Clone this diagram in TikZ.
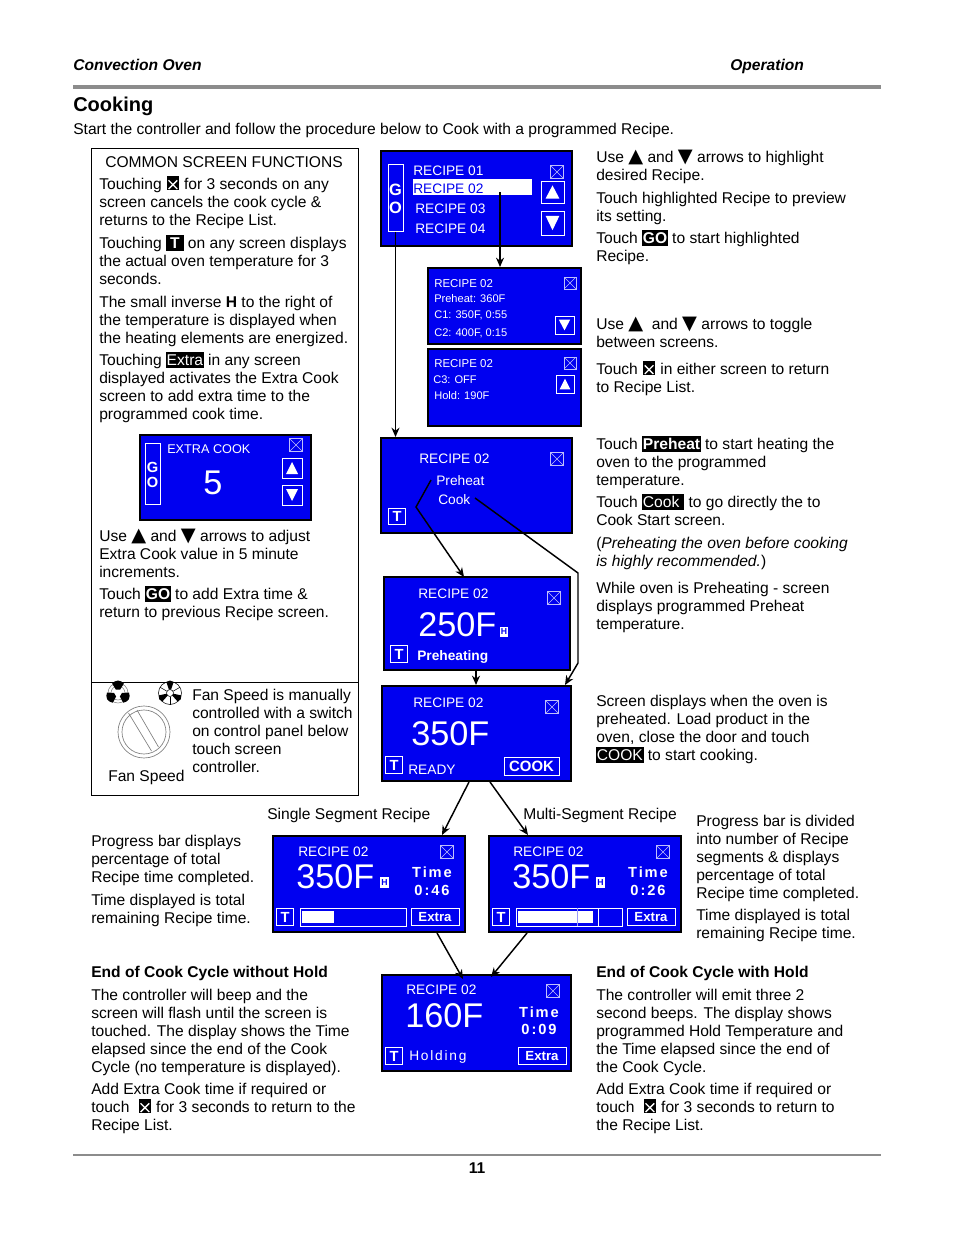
\documentclass[tikz,border=0pt]{standalone}
\usepackage{fontspec}
\setmainfont{Liberation Sans}
\newfontfamily\symfont{DejaVu Sans}
\usepackage{xcolor}
\usetikzlibrary{positioning,arrows.meta,calc,fit}
\definecolor{scrblue}{HTML}{0000F0}
\definecolor{rulegray}{HTML}{8C8C8C}
\setlength{\fboxsep}{0.5pt}
\newcommand{\bodyfont}{\fontsize{11.7}{13.5}\selectfont}
\newcommand{\invstrut}{\rule[-2pt]{0pt}{11pt}}
\newcommand{\invtxt}[1]{\colorbox{black}{\invstrut\textcolor{white}{\textbf{#1}}}}
\newcommand{\invreg}[1]{\colorbox{black}{\invstrut\textcolor{white}{#1}}}
\newcommand{\xmark}{\hspace{0.4pt}\tikz[baseline=0pt,x=1pt,y=1pt]{\fill[black] (0,-1) rectangle (9.5,10); \draw[white, line width=1pt] (1.5,0) -- (8,6.5) (1.5,6.5) -- (8,0);}\hspace{0.4pt}}
\newcommand{\uptri}{{\symfont\fontsize{14.5}{13.5}\selectfont\char"25B2}}
\newcommand{\dntri}{{\symfont\fontsize{14.5}{13.5}\selectfont\char"25BC}}
\newcommand{\ppbb}{path picture bounding box}
\begin{document}
\begin{tikzpicture}[
   x=0.75pt, y=-0.75pt,
   >={Stealth[length=7pt,width=6pt]},
   txt/.style={anchor=base west, inner sep=0pt, align=left, font=\bodyfont, text=black},
   screen/.style={draw=black, line width=1.5pt, fill=scrblue, inner sep=0pt},
   scrtxt/.style={anchor=base west, inner sep=0pt, text=white, font=\fontsize{10.3}{12}\selectfont},
   scrsmall/.style={scrtxt, font=\fontsize{8.3}{10}\selectfont},
   scrbold/.style={scrtxt, font=\fontsize{10.3}{12}\selectfont\bfseries},
   scrbig/.style={scrtxt, font=\fontsize{25.7}{28}\selectfont},
   scrtime/.style={anchor=base, inner sep=0pt, text=white, font=\fontsize{11}{13}\selectfont\bfseries\addfontfeature{LetterSpace=13}},
   btn/.style={draw=white, line width=0.75pt, inner sep=0pt, text=white},
   xbtn/.style={draw=white!75!scrblue, line width=0.5pt, inner sep=0pt, minimum size=9.5pt,
                path picture={\draw[white!75!scrblue, line width=0.4pt] (\ppbb.north west) -- (\ppbb.south east)
                   (\ppbb.north east) -- (\ppbb.south west);}},
   upbtn/.style={btn, path picture={\fill[white] ($(\ppbb.south west)!.2!(\ppbb.north east)$) -- ($(\ppbb.south east)!.2!(\ppbb.north west)$)
                   -- ($(\ppbb.north)!.2!(\ppbb.south)$) -- cycle;}},
   dnbtn/.style={btn, path picture={\fill[white] ($(\ppbb.north west)!.2!(\ppbb.south east)$) -- ($(\ppbb.north east)!.2!(\ppbb.south west)$)
                   -- ($(\ppbb.south)!.2!(\ppbb.north)$) -- cycle;}},
   tbtn/.style={btn, minimum size=12.5pt, font=\fontsize{11}{12}\selectfont\bfseries},
   wbtn/.style={btn, font=\fontsize{9.9}{11}\selectfont\bfseries},
   hbox/.style={fill=white, inner sep=0pt, text=scrblue, font=\fontsize{6.5}{7}\selectfont\bfseries, minimum width=6.5pt, minimum height=8pt},
   flow/.style={draw=black, line width=1.1pt}]
  \path[use as bounding box, fill=white] (0,0) rectangle (954,1235);

  \node[txt, font=\bodyfont\bfseries\itshape] (hdrleft) at (73,70) {Convection Oven};
  \node[txt, font=\bodyfont\bfseries\itshape] (hdrright) at (730,70) {Operation};
  \draw[rulegray, line width=2.4pt] (73,87) -- (881,87);
  \node[txt, font=\fontsize{15}{18}\selectfont\bfseries] (title) at (73,111) {Cooking};
  \node[txt] (intro) at (73,134) {Start the controller and follow the procedure below to Cook with a programmed Recipe.};

  \draw[black, line width=0.75pt] (91,148) rectangle (358,795);
  \draw[black, line width=0.75pt] (91,682) -- (358,682);
  \node[txt, anchor=base] (common) at (224,167) {COMMON SCREEN FUNCTIONS};
  \node[txt] (fnx) at (99,225) {Touching \xmark{} for 3 seconds on any\\screen cancels the cook cycle \&\\returns to the Recipe List.};
  \node[txt] (fnt) at (99,284) {Touching \invtxt{\hspace{2.5pt}T\hspace{2.5pt}} on any screen displays\\the actual oven temperature for 3\\seconds.};
  \node[txt] (fnh) at (99,343) {The small inverse \textbf{H} to the right of\\the temperature is displayed when\\the heating elements are energized.};
  \node[txt] (fnextra) at (99,419) {Touching \invreg{Extra} in any screen\\displayed activates the Extra Cook\\screen to add extra time to the\\programmed cook time.};

  \node[screen, fit={(140,435) (311,520)}] (extrascr) {};
  \node[btn, fit={(145,443) (160,504)}] (extrago) {};
  \node[anchor=base, inner sep=0pt, text=white, font=\fontsize{11}{12}\selectfont\bfseries] (extrag) at (152.5,472) {G};
  \node[anchor=base, inner sep=0pt, text=white, font=\fontsize{11}{12}\selectfont\bfseries] (extrao) at (152.5,487) {O};
  \node[scrtxt, font=\fontsize{9.5}{11}\selectfont] (extratitle) at (167,453) {EXTRA COOK};
  \node[scrbig, anchor=base] (extraval) at (213,494) {5};
  \node[xbtn] (extrax) at (296,445) {};
  \node[upbtn, fit={(282,458) (302,478)}] (extraup) {};
  \node[dnbtn, fit={(282,485) (302,505)}] (extradn) {};

  \node[txt] (fnuse) at (99,577) {Use \uptri{} and \dntri{} arrows to adjust\\Extra Cook value in 5 minute\\increments.};
  \node[txt] (fngo) at (99,617) {Touch \invtxt{GO} to add Extra time \&\\return to previous Recipe screen.};

  \begin{scope}[shift={(118,693)}]
    \draw[gray, line width=0.4pt] (0,0) circle (7) (0,0) circle (10);
    \foreach \a in {-90,30,150}
      \fill[black] (\a-32:4) -- (\a-32:11) -- (\a-16:12) -- (\a:12.5) -- (\a+16:12) -- (\a+32:11) -- (\a+32:4) -- cycle;
  \end{scope}
  \begin{scope}[shift={(170,693)}]
    \draw[black, line width=0.4pt] (0,0) circle (11.5);
    \foreach \a in {-90,30,150}
      \fill[black] (\a-18:3.5) -- (\a-18:11.5) -- (\a:12.5) -- (\a+18:11.5) -- (\a+18:3.5) -- cycle;
    \foreach \a in {-30,90,210}
      \draw[black, line width=0.4pt] (\a:3.5) -- (\a:11.5);
    \draw[black, line width=0.4pt, fill=white] (0,0) circle (3.5);
  \end{scope}
  \draw[gray, line width=0.5pt] (144,732) circle (26) (144,732) circle (22);
  \draw[gray, line width=0.5pt] (128.5,713) -- (151.5,751) (137,710) -- (158.5,747);
  \node[txt] (fanlabel) at (108,781) {Fan Speed};
  \node[txt] (fantext) at (192,772) {Fan Speed is manually\\controlled with a switch\\on control panel below\\touch screen\\controller.};

  \node[screen, fit={(381,151) (572,246)}] (list) {};
  \node[btn, fit={(388,164) (403,231)}] (listgo) {};
  \node[anchor=base, inner sep=0pt, text=white, font=\fontsize{12.3}{13}\selectfont\bfseries] (listg) at (395.5,195) {G};
  \node[anchor=base, inner sep=0pt, text=white, font=\fontsize{12.3}{13}\selectfont\bfseries] (listo) at (395.5,213) {O};
  \node[fill=white, inner sep=0pt, fit={(413,179) (532,195)}] (listbar) {};
  \node[scrtxt] (rec1) at (413,175) {RECIPE 01};
  \node[scrtxt, text=scrblue] (rec2) at (413,193) {RECIPE 02};
  \node[scrtxt] (rec3) at (415,213) {RECIPE 03};
  \node[scrtxt] (rec4) at (415,233) {RECIPE 04};
  \node[xbtn] (listx) at (557,172) {};
  \node[upbtn, fit={(541,181) (564,203)}] (listup) {};
  \node[dnbtn, fit={(541,211) (564,235)}] (listdn) {};

  \node[screen, fit={(428,268) (581,344)}] (preview) {};
  \node[scrtxt, font=\fontsize{8.6}{10}\selectfont] (prevtitle) at (434,287) {RECIPE 02};
  \node[scrsmall] (prevpre) at (434,302) {Preheat: 360F};
  \node[scrsmall] (prevc1) at (434,318) {C1: 350F, 0:55};
  \node[scrsmall] (prevc2) at (434,336) {C2: 400F, 0:15};
  \node[xbtn, minimum size=9pt] (prevx) at (570,283) {};
  \node[dnbtn, fit={(555,316) (574,334)}] (prevdn) {};

  \node[screen, fit={(428,349) (581,426)}] (previewb) {};
  \node[scrtxt, font=\fontsize{8.6}{10}\selectfont] (prevbtitle) at (434,367) {RECIPE 02};
  \node[scrsmall] (prevbc3) at (433,383) {C3: OFF};
  \node[scrsmall] (prevbhold) at (434,399) {Hold: 190F};
  \node[xbtn, minimum size=9pt] (prevbx) at (570,363) {};
  \node[upbtn, fit={(556,375) (574,393)}] (prevbup) {};

  \node[screen, fit={(381,438) (572,533)}] (select) {};
  \node[scrtxt] (seltitle) at (419,463) {RECIPE 02};
  \node[scrtxt] (selpre) at (436,485) {Preheat};
  \node[scrtxt] (selcook) at (438,504) {Cook};
  \node[xbtn] (selx) at (557,459) {};
  \node[tbtn] (selt) at (397,516.5) {T};

  \node[screen, fit={(384,577) (570,670)}] (preheating) {};
  \node[scrtxt] (heattitle) at (418,598) {RECIPE 02};
  \node[scrbig] (heattemp) at (418,636) {250F};
  \node[hbox] (heath) at (504,632) {H};
  \node[xbtn] (heatx) at (554,598) {};
  \node[tbtn] (heatt) at (399,654) {T};
  \node[scrbold] (heatlabel) at (417,660) {Preheating};

  \node[screen, fit={(382,686) (571,781)}] (ready) {};
  \node[scrtxt] (readytitle) at (413,707) {RECIPE 02};
  \node[scrbig] (readytemp) at (411,745) {350F};
  \node[xbtn] (readyx) at (552,707) {};
  \node[tbtn] (readyt) at (394,765) {T};
  \node[scrtxt] (readylabel) at (408,774) {READY};
  \node[btn, fit={(504,757) (559,775)}] (readycook) {};
  \node[inner sep=0pt, text=white, font=\fontsize{11.2}{12}\selectfont\bfseries] (readycooktxt) at (531.5,766) {COOK};

  \node[txt] (single) at (267,819) {Single Segment Recipe};
  \node[txt] (multi) at (523,819) {Multi-Segment Recipe};

  \node[screen, fit={(273,836) (465,932)}] (oneseg) {};
  \node[scrtxt] (onetitle) at (298,856) {RECIPE 02};
  \node[scrbig] (onetemp) at (296,888) {350F};
  \node[hbox] (oneh) at (384.5,882.5) {H};
  \node[xbtn] (onex) at (447,852) {};
  \node[scrtime] (onetime) at (432,877) {Time};
  \node[scrtime] (oneval) at (432,895) {0:46};
  \node[tbtn] (onet) at (285,917) {T};
  \node[btn, fit={(300,908) (406,926)}] (onebar) {};
  \node[fill=white, inner sep=0pt, fit={(302,911) (334,923)}] (onefill) {};
  \node[wbtn, minimum width=36pt, minimum height=13pt] (oneextra) at (435,917) {Extra};

  \node[screen, fit={(489,836) (681,932)}] (multiseg) {};
  \node[scrtxt] (multititle) at (513,856) {RECIPE 02};
  \node[scrbig] (multitemp) at (512,888) {350F};
  \node[hbox] (multih) at (600.5,882.5) {H};
  \node[xbtn] (multix) at (663,852) {};
  \node[scrtime] (multitime) at (648,877) {Time};
  \node[scrtime] (multival) at (648,895) {0:26};
  \node[tbtn] (multit) at (501,917) {T};
  \node[btn, fit={(516,908) (622,926)}] (multibar) {};
  \node[fill=white, inner sep=0pt, fit={(518,911) (593,923)}] (multifill) {};
  \draw[white!60!scrblue, line width=0.5pt] (577,908) -- (577,926);
  \draw[white, line width=0.5pt] (598,908) -- (598,926);
  \node[wbtn, minimum width=36pt, minimum height=13pt] (multiextra) at (651,917) {Extra};

  \node[screen, fit={(382,975) (571,1071)}] (holding) {};
  \node[scrtxt] (holdtitle) at (406,994) {RECIPE 02};
  \node[scrbig] (holdtemp) at (405,1027) {160F};
  \node[xbtn] (holdx) at (553,991) {};
  \node[scrtime] (holdtime) at (539,1017) {Time};
  \node[scrtime] (holdval) at (539,1034) {0:09};
  \node[tbtn] (holdt) at (394,1056) {T};
  \node[scrtxt, font=\fontsize{10.3}{12}\selectfont\addfontfeature{LetterSpace=13}] (holdlabel) at (409,1060) {Holding};
  \node[wbtn, minimum width=36pt, minimum height=13pt] (holdextra) at (542,1056) {Extra};

  \node[txt] (use1) at (596,180) {Use \uptri{} and \dntri{} arrows to highlight\\desired Recipe.};
  \node[txt] (use2) at (596,221) {Touch highlighted Recipe to preview\\its setting.};
  \node[txt] (use3) at (596,261) {Touch \invtxt{GO} to start highlighted\\Recipe.};
  \node[txt] (prev1) at (596,347) {Use \uptri{} \ and \dntri{} arrows to toggle\\between screens.};
  \node[txt] (prev2) at (596,392) {Touch \xmark{} in either screen to return\\to Recipe List.};
  \node[txt] (sel1) at (596,485) {Touch \invtxt{Preheat} to start heating the\\oven to the programmed\\temperature.};
  \node[txt] (sel2) at (596,525) {Touch \invreg{Cook\ } to go directly the to\\Cook Start screen.};
  \node[txt] (sel3) at (596,566) {(\textit{Preheating the oven before cooking}\\\textit{is highly recommended.})};
  \node[txt] (heat1) at (596,629) {While oven is Preheating - screen\\displays programmed Preheat\\temperature.};
  \node[txt] (ready1) at (596,760) {Screen displays when the oven is\\preheated.  Load product in the\\oven, close the door and touch\\\invreg{COOK} to start cooking.};

  \node[txt] (left1) at (91,882) {Progress bar displays\\percentage of total\\Recipe time completed.};
  \node[txt] (left2) at (91,923) {Time displayed is total\\remaining Recipe time.};
  \node[txt] (right1) at (696,898) {Progress bar is divided\\into number of Recipe\\segments \& displays\\percentage of total\\Recipe time completed.};
  \node[txt] (right2) at (696,938) {Time displayed is total\\remaining Recipe time.};

  \node[txt, font=\bodyfont\bfseries] (endhead) at (91,977) {End of Cook Cycle without Hold};
  \node[txt] (end1) at (91,1072) {The controller will beep and the\\screen will flash until the screen is\\touched.  The display shows the Time\\elapsed since the end of the Cook\\Cycle (no temperature is displayed).};
  \node[txt] (end2) at (91,1130) {Add Extra Cook time if required or\\touch \ \xmark{} for 3 seconds to return to the\\Recipe List.};
  \node[txt, font=\bodyfont\bfseries] (holdhead) at (596,977) {End of Cook Cycle with Hold};
  \node[txt] (hold1) at (596,1072) {The controller will emit three 2\\second beeps.  The display shows\\programmed Hold Temperature and\\the Time elapsed since the end of\\the Cook Cycle.};
  \node[txt] (hold2) at (596,1130) {Add Extra Cook time if required or\\touch \ \xmark{} for 3 seconds to return to\\the Recipe List.};

  \draw[rulegray, line width=1.5pt] (73,1155) -- (881,1155);
  \node[txt, anchor=base, font=\bodyfont\bfseries] (pageno) at (477,1173) {11};

  \coordinate (listmark) at (500,192);
  \coordinate (prea) at (431,480);
  \coordinate (preb) at (416,507);
  \coordinate (prec) at (464,577);
  \coordinate (cooka) at (475,498);
  \coordinate (cookb) at (578,573);
  \coordinate (cookc) at (578,663);
  \coordinate (cookd) at (565,685);
  \coordinate (heatout) at (476,670);
  \coordinate (readyl) at (469,782);
  \coordinate (readyr) at (490,782);
  \coordinate (oneend) at (442,835);
  \coordinate (multiend) at (528,835);
  \coordinate (onebot) at (437,933);
  \coordinate (onedown) at (463,979);
  \coordinate (multibot) at (527,933);
  \coordinate (multidown) at (491,977);

  \draw[flow, ->] (listgo.south) -- (listgo.south |- select.north);
  \draw[flow, ->] (listmark) -- (listmark |- preview.north);
  \draw[flow, ->] (prea) -- (preb) -- (prec);
  \draw[flow, ->] (cooka) -- (cookb) -- (cookc) -- (cookd);
  \draw[flow, ->] (heatout) -- (heatout |- ready.north);
  \draw[flow, ->] (readyl) -- (oneend);
  \draw[flow, ->] (readyr) -- (multiend);
  \draw[flow, ->] (onebot) -- (onedown);
  \draw[flow, ->] (multibot) -- (multidown);
\end{tikzpicture}
\end{document}
